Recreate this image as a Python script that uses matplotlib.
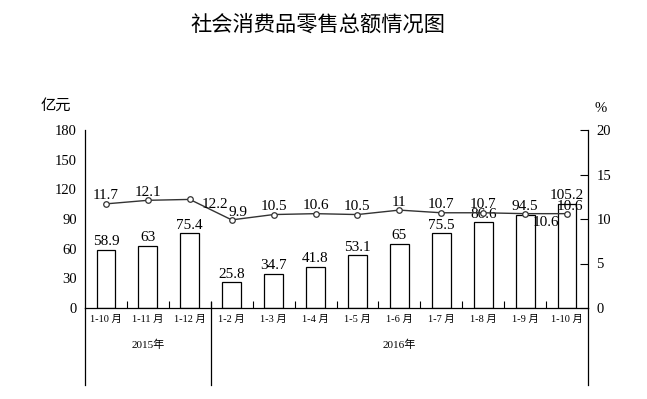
import matplotlib
matplotlib.use("Agg")
import matplotlib.pyplot as plt
from matplotlib.lines import Line2D

plt.rcParams['font.family'] = ['Liberation Serif', 'Noto Sans CJK SC', 'DejaVu Sans']

categories = ["1-10 月", "1-11 月", "1-12 月", "1-2 月", "1-3 月", "1-4 月",
              "1-5 月", "1-6 月", "1-7 月", "1-8 月", "1-9 月", "1-10 月"]
sales = [58.9, 63, 75.4, 25.8, 34.7, 41.8, 53.1, 65, 75.5, 86.6, 94.5, 105.2]
growth = [11.7, 12.1, 12.2, 9.9, 10.5, 10.6, 10.5, 11, 10.7, 10.7, 10.6, 10.6]
years = ["2015年", "2016年"]
left_ticks = [0, 30, 60, 90, 120, 150, 180]
right_ticks = [0, 5, 10, 15, 20]

# label offsets for growth labels (pixels, centre of text relative to point)
growth_offsets = [(0, 8)] * 12
growth_offsets[2] = (25, -5)
growth_offsets[3] = (6, 7)
growth_offsets[10] = (21, -9)
growth_offsets[11] = (3, 7)

fig = plt.figure(figsize=(6.47, 3.99), dpi=100)
ax = fig.add_axes([85/647, 1-308/399, (588-85)/647, 178/399])
ax2 = ax.twinx()

x = list(range(len(categories)))
ax.bar(x, sales, width=0.45, color='white', edgecolor='black', linewidth=0.9, zorder=2)
for xi, v in zip(x, sales):
    ax.annotate(f"{v:g}", (xi, v), xytext=(0, 8), textcoords='offset pixels',
                ha='center', va='center', fontsize=11)

ax2.plot(x, growth, color='#333333', linewidth=1.0, marker='o', markersize=4,
         markerfacecolor='white', markeredgecolor='#333333', markeredgewidth=0.9, zorder=3)
for xi, v, off in zip(x, growth, growth_offsets):
    ax2.annotate(f"{v:g}", (xi, v), xytext=off, textcoords='offset pixels',
                 ha='center', va='center', fontsize=11)

ax.set_xlim(-0.5, len(categories) - 0.5)
ax.set_ylim(0, 180)
ax2.set_ylim(0, 20)
ax.set_yticks(left_ticks)
ax2.set_yticks(right_ticks)
ax.tick_params(axis='y', length=0, labelsize=10.5, pad=6)
ax2.tick_params(axis='y', direction='in', length=6, labelsize=10.5, pad=6)

# x ticks: boundaries (ticks) and centres (labels)
ax.set_xticks([i - 0.5 for i in range(1, len(categories))])
ax.set_xticklabels([])
ax.set_xticks(x, minor=True)
ax.set_xticklabels(categories, minor=True, fontsize=7.5)
ax.tick_params(axis='x', which='major', direction='in', length=5, width=0.8)
ax.tick_params(axis='x', which='minor', length=0, pad=5)

for a in (ax, ax2):
    a.spines['top'].set_visible(False)
ax.spines['right'].set_visible(False)
ax2.spines['left'].set_visible(False)
ax2.spines['bottom'].set_visible(False)
for s in ('left', 'bottom'):
    ax.spines[s].set_linewidth(0.9)
ax2.spines['right'].set_linewidth(0.9)

# separators and year labels below the axis
tr = ax.get_xaxis_transform()
for xs, ytop in [(-0.5, 0), (2.5, 0.034), (len(categories) - 0.5, 0)]:
    ax.add_line(Line2D([xs, xs], [ytop, -0.433], transform=tr, color='black',
                       linewidth=0.9, clip_on=False))
ax.text(1, -0.208, years[0], transform=tr, ha='center', va='center', fontsize=8)
ax.text(7, -0.208, years[1], transform=tr, ha='center', va='center', fontsize=8)

fig.text(56/647, 1-105/399, "亿元", ha='center', va='center', fontsize=11,
         family=['Noto Sans CJK SC', 'DejaVu Sans'])
fig.text(601/647, 1-108/399, "%", ha='center', va='center', fontsize=10.5)
fig.text(318/647, 1-25/399, "社会消费品零售总额情况图", ha='center', va='center',
         fontsize=15.3, family=['Noto Sans CJK SC', 'DejaVu Sans'])

fig.savefig("out.png", dpi=100)
